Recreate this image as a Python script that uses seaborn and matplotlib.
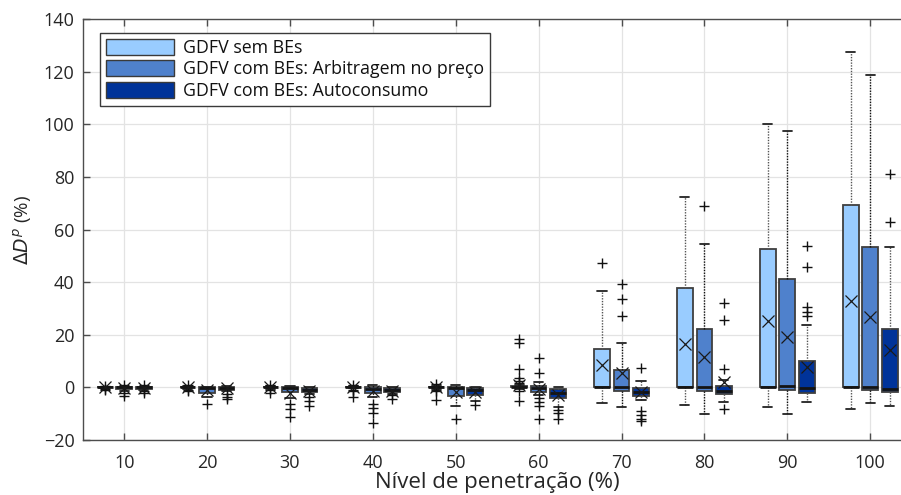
import numpy as np
import matplotlib
matplotlib.use("Agg")
import matplotlib.pyplot as plt
import matplotlib.patches as mpatches
import seaborn as sns

# ---------------- data ----------------
categories = [10, 20, 30, 40, 50, 60, 70, 80, 90, 100]
series = ["GDFV sem BEs",
          "GDFV com BEs: Arbitragem no preço",
          "GDFV com BEs: Autoconsumo"]
colors = ["#99CCFF", "#4F81CC", "#003399"]

# GDFV sem BEs
s1_q1 = [0, 0, 0, 0, 0, 0, 0, 0, 0, 0]
s1_med = [0, 0, 0, 0, 0, 0, 0, 0, 0, 0]
s1_q3 = [0, 0.3, 0.2, 0.2, 0.3, 0.5, 14.7, 37.6, 52.8, 69.3]
s1_wlo = [-0.3, -0.5, -0.5, -0.4, -0.5, -0.5, -5.9, -6.6, -7.4, -8.2]
s1_whi = [0.3, 0.6, 0.5, 0.5, 0.6, 1.0, 36.7, 72.2, 100.1, 127.6]
s1_mean = [0, 0, 0, 0, 0, 0.9, 8.5, 16.4, 25.2, 32.9]
s1_fliers = [[-0.8, 0.6, -0.5], [-1.5, 1.0, -0.8], [-2.2, 1.0, -1.0],
             [-3.5, -1.5, 1.0, -1.0], [-1.3, -4.7, 1.2, -0.9],
             [18.3, 16.8, 7.1, 1.8, 2.5, -1.5, -5.1, 3.5],
             [47.3], [], [], []]

# GDFV com BEs: Arbitragem no preço
s2_q1 = [-0.5, -2.2, -1.7, -2.2, -3.1, -1.8, -1.3, -1.3, -1.1, -0.8]
s2_med = [0, -0.3, -0.2, -0.6, -0.3, -0.4, 0, 0.2, 0.4, 0]
s2_q3 = [0, 0, 0.3, 0.2, 0.2, 0.4, 6.8, 22.1, 41.1, 53.5]
s2_wlo = [-1.2, -3.8, -4.0, -3.5, -6.9, -3.0, -7.3, -10.0, -10.0, -6.0]
s2_whi = [0.3, 0.3, 0.6, 0.8, 0.8, 2.0, 16.8, 54.7, 97.4, 118.8]
s2_mean = [-0.3, -1.0, -2.0, -1.5, -1.6, -0.6, 5.4, 11.7, 19.2, 26.7]
s2_fliers = [[-2.0, -3.3, 0.8], [-6.4], [-6.4, -8.2, -11.3],
             [-6.3, -7.7, -9.6, -13.6], [-12.0],
             [11.3, 5.4, -4.0, -5.4, -7.0, -12.1],
             [39.2, 33.5, 27.2], [68.9], [], []]

# GDFV com BEs: Autoconsumo
s3_q1 = [-0.5, -0.8, -1.8, -1.8, -2.9, -4.0, -3.2, -2.6, -2.0, -1.7]
s3_med = [0, -0.2, -0.8, -0.8, -1.0, -2.3, -1.8, -1.2, -0.4, -0.5]
s3_q3 = [0, 0.2, -0.3, -0.4, -0.4, -0.6, -0.3, 0.45, 10.0, 22.2]
s3_wlo = [-1.0, -1.5, -2.5, -2.5, -5.1, -7.5, -4.8, -5.5, -5.6, -6.9]
s3_whi = [0.3, 0.6, 0.2, 0.1, 0.2, 0.0, 2.6, 2.85, 23.9, 53.4]
s3_mean = [-0.2, -0.3, -1.2, -1.2, -1.8, -2.9, -1.9, 2.2, 7.7, 14.1]
s3_fliers = [[-2.0, -1.5, 0.8], [-3.5, -4.3, -2.5], [-3.7, -5.0, -6.9],
             [-3.0, -4.4], [-6.5], [-8.5, -9.6, -12.1],
             [7.3, -8.9, -10.5, -12.0, -12.8], [32.0, 25.5, 7.0, -8.2],
             [53.7, 45.6, 30.5, 28.7, 27.2], [62.8, 81.2]]

stats_data = [
    (s1_q1, s1_med, s1_q3, s1_wlo, s1_whi, s1_mean, s1_fliers),
    (s2_q1, s2_med, s2_q3, s2_wlo, s2_whi, s2_mean, s2_fliers),
    (s3_q1, s3_med, s3_q3, s3_wlo, s3_whi, s3_mean, s3_fliers),
]

# ---------------- figure ----------------
sns.set_theme(style="whitegrid")
plt.rcParams["font.family"] = ["Open Sans", "DejaVu Sans"]
plt.rcParams["mathtext.fontset"] = "dejavusans"

fig = plt.figure(figsize=(9.01, 4.95), dpi=100)
ax = fig.add_axes([0.0918, 0.111, 0.920, 0.8505])

offsets = [-0.235, 0.0, 0.235]
box_w = 0.19
whisk_cols = ["#555555", "#111111", "#555555"]
for k, (q1, med, q3, wlo, whi, mean, fl) in enumerate(stats_data):
    bstats = []
    for i in range(len(categories)):
        bstats.append(dict(q1=q1[i], med=med[i], q3=q3[i], whislo=wlo[i],
                           whishi=whi[i], mean=mean[i], fliers=fl[i]))
    pos = np.arange(len(categories)) + offsets[k]
    ax.bxp(bstats, positions=pos, widths=box_w, capwidths=0.11,
           patch_artist=True, showmeans=True, manage_ticks=False,
           boxprops=dict(facecolor=colors[k], edgecolor="#3f3f3f", linewidth=1.3),
           medianprops=dict(color="#141414", linewidth=2.0),
           whiskerprops=dict(color=whisk_cols[k], linewidth=1.0, linestyle=(0, (1, 1))),
           capprops=dict(color="#222222", linewidth=1.3),
           meanprops=dict(marker="x", markeredgecolor="#1a1a1a", markersize=8,
                          markeredgewidth=0.9),
           flierprops=dict(marker="+", markeredgecolor="#111111", markersize=7,
                           markeredgewidth=1.0, linestyle="none"))

ax.set_xlim(-0.5, 9.5)
ax.set_ylim(-20, 140)
ax.set_yticks(np.arange(-20, 141, 20))
ax.set_xticks(np.arange(len(categories)))
ax.set_xticklabels([str(c) for c in categories])

ax.grid(True, color="#e3e3e3", linewidth=0.9)
ax.set_axisbelow(True)
ax.set_facecolor("white")
for side in ["left", "bottom", "top"]:
    ax.spines[side].set_visible(True)
    ax.spines[side].set_color("#4d4d4d")
    ax.spines[side].set_linewidth(1.0)
ax.spines["right"].set_visible(False)

ax.tick_params(axis="both", direction="in", length=5, width=1.0, color="#4d4d4d",
               labelsize=13, labelcolor="#262626", top=True, bottom=True,
               left=True)
ax.tick_params(axis="x", pad=10)
ax.tick_params(axis="y", pad=6)

ax.set_xlabel("Nível de penetração (%)", fontsize=16, color="#262626", labelpad=0)
ax.set_ylabel(r"$\mathit{\Delta D^{p}}$ (%)", fontsize=13.5, color="#262626", labelpad=7)

handles = [mpatches.Patch(facecolor=c, edgecolor="#3a3a3a", linewidth=1.0, label=s)
           for c, s in zip(colors, series)]
leg = ax.legend(handles=handles, loc="upper left", bbox_to_anchor=(0.021, 0.967),
                fontsize=12.8, frameon=True, fancybox=False, framealpha=1,
                edgecolor="#3a3a3a", handlelength=3.8, handleheight=1.0,
                labelspacing=0.18, borderpad=0.35, handletextpad=0.5,
                borderaxespad=0)
leg.get_frame().set_linewidth(1.0)
for t in leg.get_texts():
    t.set_color("#111111")

fig.savefig("out.png", dpi=100)
